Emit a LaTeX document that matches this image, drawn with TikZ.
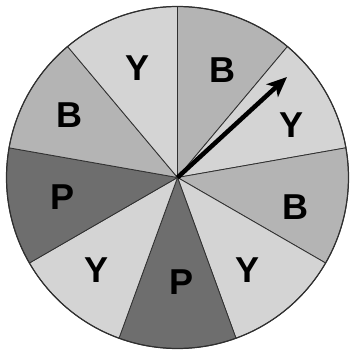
\documentclass[tikz,border=0pt]{standalone}
\usepackage{fontspec}
\setmainfont{Liberation Sans}
\usetikzlibrary{arrows.meta}
\definecolor{ycol}{HTML}{D4D4D4}
\definecolor{bcol}{HTML}{B4B4B4}
\definecolor{pcol}{HTML}{6E6E6E}
\definecolor{edge}{HTML}{303030}
\tikzset{
  lbl/.style={font={\bfseries\fontsize{36pt}{36pt}\selectfont}, text=black, inner sep=0pt},
  sector/.style={draw=edge, line width=0.8pt, line join=round},
}
\newcommand{\sect}[3]{% start angle, end angle, colour
  \filldraw[sector, fill=#3] (0,0) -- (#1:171) arc[start angle=#1, end angle=#2, radius=171] -- cycle;}
\begin{document}
\begin{tikzpicture}[x=1pt,y=1pt]
\useasboundingbox (-177.5,-176.5) rectangle (172.5,177.5);
\coordinate (c) at (0,0);
\sect{90}{50}{bcol}
\sect{50}{10}{ycol}
\sect{10}{-30}{bcol}
\sect{-30}{-70}{ycol}
\sect{-70}{-110}{pcol}
\sect{-110}{-150}{ycol}
\sect{-150}{-190}{pcol}
\sect{170}{130}{bcol}
\sect{130}{90}{ycol}
\draw[edge, line width=1.2pt] (c) circle[radius=171];
\node[lbl] (b1) at (44.5,107.5) {B};
\node[lbl] (y1) at (-39.5,109.5) {Y};
\node[lbl] (y2) at (114.5,52.5) {Y};
\node[lbl] (b2) at (-107.5,62.5) {B};
\node[lbl] (b3) at (117.5,-29.5) {B};
\node[lbl] (p1) at (-114.5,-19.5) {P};
\node[lbl] (y3) at (-80.5,-92.5) {Y};
\node[lbl] (p2) at (4.5,-104.5) {P};
\node[lbl] (y4) at (70.5,-92.5) {Y};
\coordinate (tip) at (109.5,100.5);
\draw[line width=4.5pt, -{Stealth[length=20pt,width=17pt,inset=5pt]}] (c) -- (tip);
\end{tikzpicture}
\end{document}
